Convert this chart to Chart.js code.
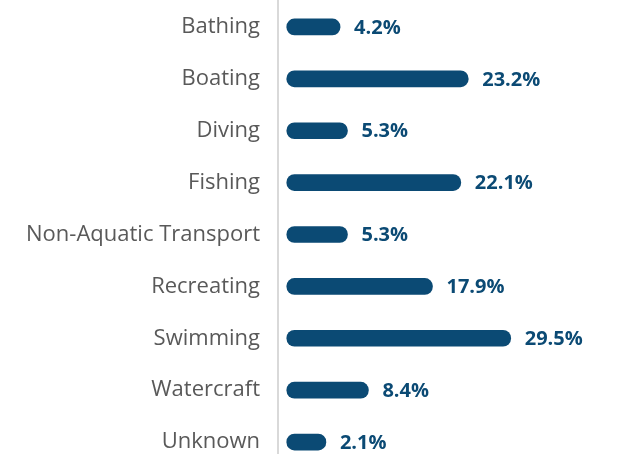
<!DOCTYPE html>
<html>
<head>
<meta charset="utf-8">
<script src="https://cdn.jsdelivr.net/npm/chart.js@4"></script>
<style>
  html, body { margin: 0; padding: 0; background: #ffffff; overflow: hidden; width: 618px; height: 454px; }
</style>
</head>
<body>
<canvas id="c" width="618" height="468" style="width:618px;height:468px;display:block"></canvas>
<script>
const categories = ["Bathing", "Boating", "Diving", "Fishing", "Non-Aquatic Transport", "Recreating", "Swimming", "Watercraft", "Unknown"];
const percentages = [4.2, 23.2, 5.3, 22.1, 5.3, 17.9, 29.5, 8.4, 2.1];

const BAR_COLOR = "#0b4a74";

const valueLabels = {
  id: "valueLabels",
  afterDatasetsDraw(chart) {
    const ctx = chart.ctx;
    const meta = chart.getDatasetMeta(0);
    ctx.save();
    ctx.font = "bold 20px 'Open Sans'";
    ctx.fillStyle = BAR_COLOR;
    ctx.textAlign = "left";
    ctx.textBaseline = "middle";
    meta.data.forEach((bar, i) => {
      ctx.fillText(percentages[i].toFixed(1) + "%", bar.x + 14, bar.y + 1);
    });
    ctx.restore();
  }
};

new Chart(document.getElementById("c"), {
  type: "bar",
  data: {
    labels: categories,
    datasets: [{
      data: percentages,
      base: -3.7,
      backgroundColor: BAR_COLOR,
      borderRadius: 8,
      borderSkipped: false,
      barThickness: 16
    }]
  },
  options: {
    indexAxis: "y",
    responsive: false,
    animation: false,
    layout: { padding: { top: 1, bottom: 0, left: 0, right: 0 } },
    plugins: { legend: { display: false }, tooltip: { enabled: false } },
    scales: {
      x: { display: false, min: -5, max: 45.4 },
      y: {
        afterFit(scale) { scale.width = 278; scale.paddingTop = 0; scale.paddingBottom = 0; },
        grid: { display: false },
        border: { display: true, color: "#d9d9d9", width: 2 },
        ticks: { color: "#595959", font: { family: "'Open Sans'", size: 22 }, padding: 10 }
      }
    }
  },
  plugins: [valueLabels]
});
</script>
</body>
</html>
